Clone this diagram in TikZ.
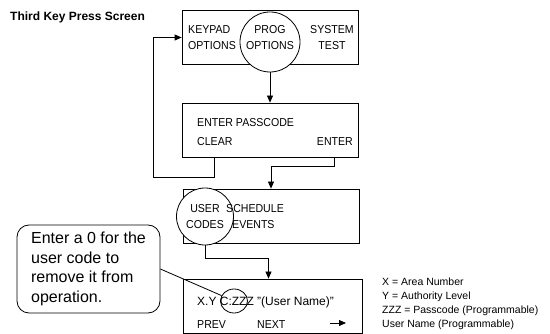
\documentclass[tikz,border=0pt]{standalone}
\usepackage{fontspec}
\setmainfont{Liberation Sans}
\newfontfamily\keyfont[FakeStretch=0.92]{Liberation Sans}
\usetikzlibrary{arrows.meta,shapes.geometric}
\begin{document}
\begin{tikzpicture}[
    x=1pt, y=-1pt,
    screen/.style={rectangle, draw, line width=0.8pt, minimum width=176pt, minimum height=54pt},
    pick/.style={circle, draw, fill=white, line width=0.8pt, inner sep=0pt},
    keytext/.style={font=\keyfont\fontsize{11.5}{16}\selectfont, inner sep=0pt, align=left},
    arrow/.style={-{Triangle[length=7pt,width=6pt]}, line width=0.8pt}
]
\useasboundingbox (0,0) rectangle (550,334);
\node[font=\bfseries\fontsize{12}{14}\selectfont, anchor=west, inner sep=0pt] (title) at (10,17) {Third Key Press Screen};

% screens
\node[screen] (menu) at (270,37.5) {};
\node[screen] (pass) at (270.5,130) {};
\node[screen] (main) at (271,216) {};
\node[screen, minimum width=179pt] (user) at (272.5,306) {};

% selected keys
\node[pick, minimum size=60pt] (prog) at (270,42) {};
\node[pick, minimum size=57pt] (codes) at (205,216.5) {};
\node[ellipse, draw, line width=0.8pt, minimum width=27pt, minimum height=24pt, inner sep=0pt] (zzz) at (234,301) {};

% key texts
\node[keytext, anchor=west] (keypad) at (188,38) {KEYPAD\\OPTIONS};
\node[keytext, align=center] (progtext) at (270,38) {PROG\\OPTIONS};
\node[keytext, align=center] (system) at (332,38) {SYSTEM\\TEST};
\node[keytext, anchor=west] (passtext) at (197,123) {ENTER PASSCODE};
\node[keytext, anchor=west] (clear) at (197,142) {CLEAR};
\node[keytext, anchor=east] (enter) at (353,142) {ENTER};
\node[keytext, align=center] (codestext) at (205,216.5) {USER\\CODES};
\node[keytext, anchor=west] (sched) at (226,216.5) {SCHEDULE\\\hspace*{6pt}EVENTS};
\node[keytext, anchor=west, font=\fontsize{12}{14}\selectfont] (entry) at (197,302) {X.Y C:ZZZ "(User Name)"};
\node[keytext, anchor=west] (prev) at (197,325) {PREV};
\node[keytext, anchor=west] (next) at (257,325) {NEXT};
\coordinate (nxa) at (330,323);
\coordinate (nxb) at (346,323);

% notes
\node[rectangle, draw, rounded corners=12pt, line width=0.8pt, minimum width=143pt, minimum height=88pt, align=left, font=\fontsize{16}{19.5}\selectfont] (note) at (88.5,269) {Enter a 0 for the\\user code to\\remove it from\\operation.};
\node[anchor=west, align=left, inner sep=0pt, font=\fontsize{10.5}{14}\selectfont] (legend) at (382,304) {X = Area Number\\Y = Authority Level\\ZZZ = Passcode (Programmable)\\User Name (Programmable)};

\coordinate (back) at (153,177);
\draw[arrow] (prog.south) -- (prog.south |- pass.north);
\draw[arrow] (clear.south |- pass.south) |- (back) |- (menu.west);
\draw[arrow] (enter.south |- pass.south) |- ([yshift=22pt]main.north) -- (main.north);
\draw[arrow] (codes.south) |- ([xshift=-4pt,yshift=20pt]user.north) -- ([xshift=-4pt]user.north);
\draw[arrow] (nxa) -- (nxb);
\draw[line width=0.8pt] (note.east) -- (zzz);
\end{tikzpicture}
\end{document}
